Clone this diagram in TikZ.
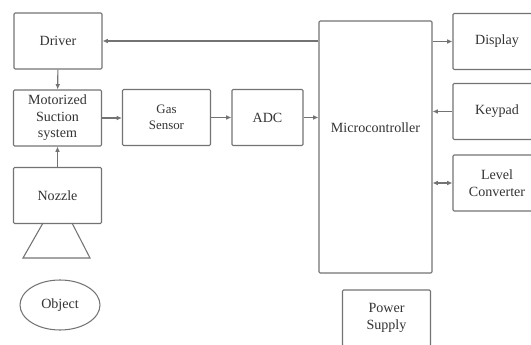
\documentclass[tikz,border=0pt]{standalone}
\usepackage{fontspec}
\setmainfont{Liberation Serif}
\usetikzlibrary{arrows.meta,shapes.geometric}
\begin{document}
\begin{tikzpicture}[x=0.03cm,y=-0.03cm,every node/.style={font=\fontsize{12}{14}\selectfont,text=black!80},line/.style={draw=black!55,line width=0.9pt},box/.style={line,rounded corners=1pt,minimum width=2.64cm,minimum height=1.68cm,align=center},link/.style={line,>={Latex[length=4.5pt,width=4pt]}}]
\useasboundingbox (0,0) rectangle (531,345);
\clip (0,0) rectangle (531,345);
\node[box] (driver) at (58,41){Driver};
\node[box] (suction) at (57.5,118){Motorized\\Suction\\system};
\node[box,font=\fontsize{11}{14}\selectfont] (gas) at (166.5,117.5){Gas\\Sensor};
\node[box,minimum width=2.13cm] (adc) at (267.5,117.5){ADC};
\node[box,minimum width=3.39cm,minimum height=7.56cm] (micro) at (375.5,147){};
\node (microlabel) at (375.5,128){Microcontroller};
\node[box] (display) at (497,41.5){Display};
\node[box] (keypad) at (497,111.5){Keypad};
\node[box] (level) at (497,183){Level\\Converter};
\node[box] (nozzle) at (57.5,195.5){Nozzle};
\draw[line] (43,223) -- (23,258) -- (90,258) -- (72,223);
\node[line,ellipse,minimum width=2.4cm,minimum height=1.5cm] (object) at (60,305){Object};
\node[box] (power) at (386.5,318){Power\\Supply};
\draw[link,->] (micro.west |- driver.east) -- (driver.east);
\draw[link,->] (driver) -- (suction);
\draw[link,->] (nozzle) -- (suction);
\draw[link,->] (suction) -- (suction -| gas.west);
\draw[link,->] (gas) -- (gas -| adc.west);
\draw[link,->] (adc) -- (adc -| micro.west);
\draw[link,->] (micro.east |- display.west) -- (display.west);
\draw[link,->] (keypad.west) -- (keypad.west -| micro.east);
\draw[link,<->] (micro.east |- level.west) -- (level.west);
\end{tikzpicture}
\end{document}
